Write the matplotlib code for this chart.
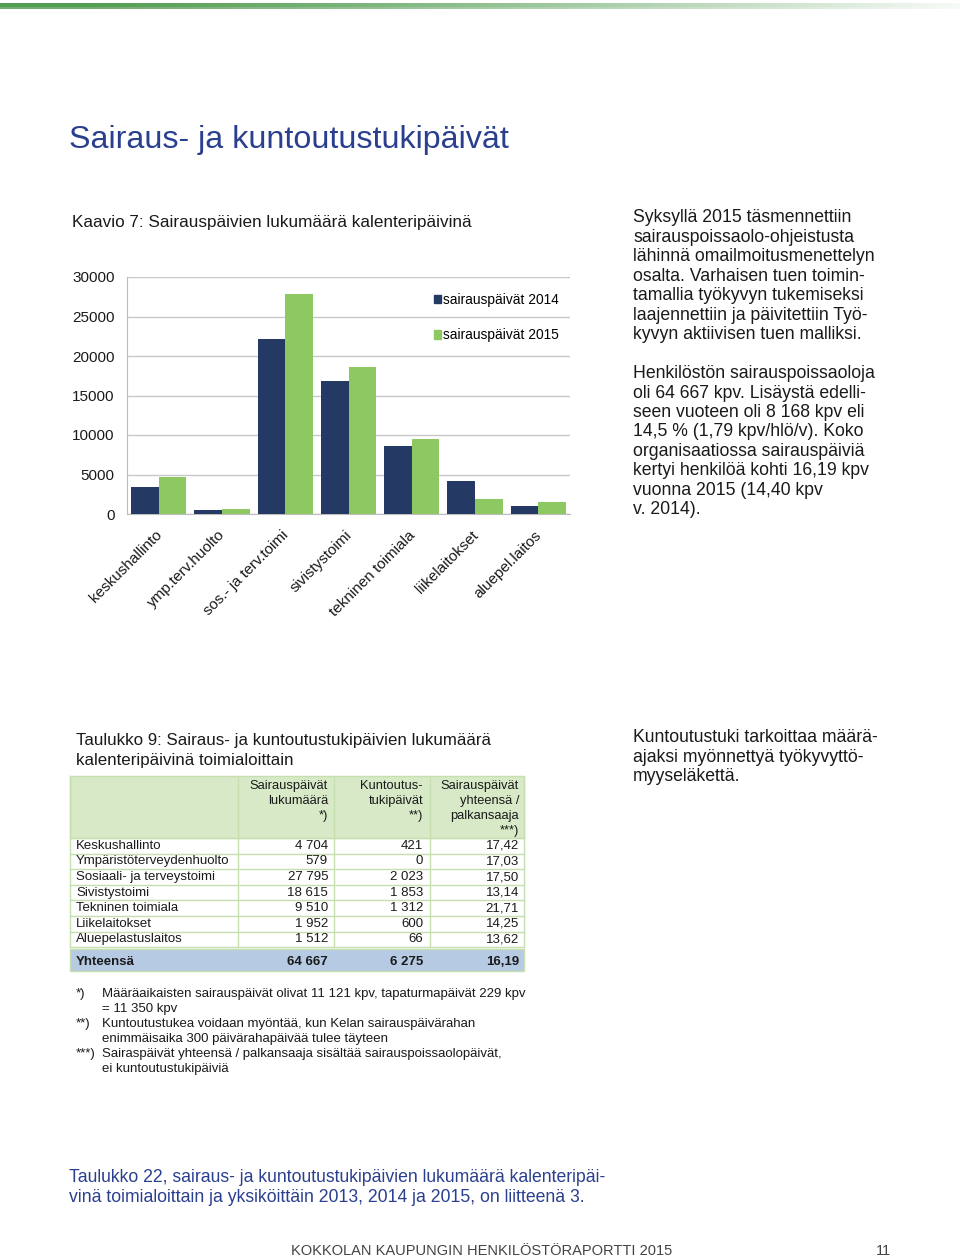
import numpy as np
import matplotlib
matplotlib.use("Agg")
import matplotlib.pyplot as plt
from matplotlib.patches import Rectangle, Patch

plt.rcParams['font.family'] = ['Liberation Sans', 'DejaVu Sans']

W, H = 960, 1258

# --- chart data ---
categories = ['keskushallinto', 'ymp.terv.huolto', 'sos.- ja terv.toimi', 'sivistystoimi',
              'tekninen toimiala', 'liikelaitokset', 'aluepel.laitos']
days_2014 = [3470, 465, 22170, 16790, 8550, 4150, 970]
days_2015 = [4704, 579, 27795, 18615, 9510, 1952, 1512]
y_ticks = [0, 5000, 10000, 15000, 20000, 25000, 30000]

# --- table data ---
table_rows = ['Keskushallinto', 'Ympäristöterveydenhuolto', 'Sosiaali- ja terveystoimi',
              'Sivistystoimi', 'Tekninen toimiala', 'Liikelaitokset', 'Aluepelastuslaitos']
col_sairaus = ['4 704', '579', '27 795', '18 615', '9 510', '1 952', '1 512']
col_kuntoutus = ['421', '0', '2 023', '1 853', '1 312', '600', '66']
col_per_hlo = ['17,42', '17,03', '17,50', '13,14', '21,71', '14,25', '13,62']
total_row = ['Yhteensä', '64 667', '6 275', '16,19']

NAVY = '#243a64'
GREEN = '#8dc863'
BLUE_TXT = '#2a3f8e'
TXT = '#1a1a1a'

fig = plt.figure(figsize=(W / 100, H / 100), dpi=100)

# page axes in pixel coordinates (y down)
page = fig.add_axes([0, 0, 1, 1])
page.set_xlim(0, W)
page.set_ylim(H, 0)
page.axis('off')

# top gradient lines
grad = np.linspace(0, 1, 400)
for y0, y1, c in [(4, 7.5, (0.33, 0.62, 0.33)), (8, 9.5, (0.45, 0.68, 0.45))]:
    img = np.ones((1, 400, 4))
    img[0, :, 0], img[0, :, 1], img[0, :, 2] = c
    img[0, :, 3] = np.clip(1.05 - grad ** 1.3, 0, 1)
    page.imshow(img, extent=(0, W, y1, y0), aspect='auto', interpolation='bilinear')

page.text(69, 140, 'Sairaus- ja kuntoutustukipäivät', fontsize=23.2, color=BLUE_TXT, va='center')
page.text(72, 223, 'Kaavio 7: Sairauspäivien lukumäärä kalenteripäivinä', fontsize=12.3, color=TXT, va='center')

# right column text
right_lines = ['Syksyllä 2015 täsmennettiin', 'sairauspoissaolo-ohjeistusta',
               'lähinnä omailmoitusmenettelyn', 'osalta. Varhaisen tuen toimin-',
               'tamallia työkyvyn tukemiseksi', 'laajennettiin ja päivitettiin Työ-',
               'kyvyn aktiivisen tuen malliksi.', '',
               'Henkilöstön sairauspoissaoloja', 'oli 64 667 kpv. Lisäystä edelli-',
               'seen vuoteen oli 8 168 kpv eli', '14,5 % (1,79 kpv/hlö/v). Koko',
               'organisaatiossa sairauspäiviä', 'kertyi henkilöä kohti 16,19 kpv',
               'vuonna 2015 (14,40 kpv', 'v. 2014).']
for i, line in enumerate(right_lines):
    page.text(633, 218 + i * 19.45, line, fontsize=12.7, color=TXT, va='center')

kt_lines = ['Kuntoutustuki tarkoittaa määrä-', 'ajaksi myönnettyä työkyvyttö-', 'myyseläkettä.']
for i, line in enumerate(kt_lines):
    page.text(633, 738 + i * 19.45, line, fontsize=12.7, color=TXT, va='center')

# --- bar chart ---
ax = fig.add_axes([127 / W, 1 - 514 / H, 443 / W, 237 / H])
x = np.arange(len(categories))
bw = 0.437
ax.bar(x - bw / 2, days_2014, bw, color=NAVY, label='sairauspäivät 2014', zorder=3)
ax.bar(x + bw / 2, days_2015, bw, color=GREEN, label='sairauspäivät 2015', zorder=3)
ax.set_xlim(-0.5, len(categories) - 0.5)
ax.set_ylim(0, 30000)
ax.set_yticks(y_ticks)
ax.set_yticklabels([str(t) for t in y_ticks], fontsize=11, color=TXT)
ax.yaxis.grid(True, color='#c8c8c8', lw=1, zorder=0)
ax.tick_params(axis='both', length=0)
ax.tick_params(axis='y', pad=9)
ax.set_xticks(x - 0.06)
ax.set_xticklabels(categories, rotation=45, ha='right', rotation_mode='anchor',
                   fontsize=11, color=TXT)
ax.tick_params(axis='x', pad=10)
for s in ['top', 'right']:
    ax.spines[s].set_visible(False)
ax.spines['left'].set_color('#bdbdbd')
ax.spines['bottom'].set_color('#bdbdbd')
ax.legend(handles=[Patch(color=NAVY, label='sairauspäivät 2014'),
                   Patch(color=GREEN, label='sairauspäivät 2015')],
          loc='upper left', bbox_to_anchor=(0.68, 0.955), frameon=False,
          fontsize=9.9, handlelength=0.55, handleheight=0.55, handletextpad=0.15,
          labelspacing=1.55, borderaxespad=0)

# --- table ---
page.text(76, 741, 'Taulukko 9: Sairaus- ja kuntoutustukipäivien lukumäärä', fontsize=12.2, color=TXT, va='center')
page.text(76, 761, 'kalenteripäivinä toimialoittain', fontsize=12.2, color=TXT, va='center')

tx0, tx1 = 70, 524
col_edges = [70, 238, 334, 430, 524]
hdr_top, hdr_bot = 776, 838
row_h = 15.6
line_c = '#c6dfb1'
page.add_patch(Rectangle((tx0, hdr_top), tx1 - tx0, hdr_bot - hdr_top,
                         facecolor='#d7e9c6', edgecolor=line_c, lw=1))
headers = [['Sairauspäivät', 'lukumäärä', '*)'],
           ['Kuntoutus-', 'tukipäivät', '**)'],
           ['Sairauspäivät', 'yhteensä /', 'palkansaaja', '***)']]
col_right = [328, 423, 519]
for xr, hdr in zip(col_right, headers):
    for j, h in enumerate(hdr):
        page.text(xr, 786 + j * 15, h, fontsize=9.3, color=TXT, ha='right', va='center')

n = len(table_rows)
data_bot = hdr_bot + n * row_h
for i in range(n + 1):
    yy = hdr_bot + i * row_h
    page.plot([tx0, tx1], [yy, yy], color=line_c, lw=1)
for xe in col_edges:
    page.plot([xe, xe], [hdr_top, data_bot], color=line_c, lw=1)
for i, name in enumerate(table_rows):
    yc = hdr_bot + (i + 0.5) * row_h
    page.text(76, yc, name, fontsize=9.5, color=TXT, va='center')
    for xr, v in zip(col_right, [col_sairaus[i], col_kuntoutus[i], col_per_hlo[i]]):
        page.text(xr, yc, v, fontsize=9.5, color=TXT, ha='right', va='center')

tot_top, tot_bot = data_bot + 2, 971
page.add_patch(Rectangle((tx0, tot_top), tx1 - tx0, tot_bot - tot_top,
                         facecolor='#b6cbe3', edgecolor=line_c, lw=1))
page.text(76, 962, total_row[0], fontsize=9.5, color=TXT, va='center', fontweight='bold')
for xr, v in zip(col_right, total_row[1:]):
    page.text(xr, 962, v, fontsize=9.5, color=TXT, ha='right', va='center', fontweight='bold')

# footnotes
notes = [('*)', 'Määräaikaisten sairauspäivät olivat 11 121 kpv, tapaturmapäivät 229 kpv'),
         ('', '= 11 350 kpv'),
         ('**)', 'Kuntoutustukea voidaan myöntää, kun Kelan sairauspäivärahan'),
         ('', 'enimmäisaika 300 päivärahapäivää tulee täyteen'),
         ('***)', 'Sairaspäivät yhteensä / palkansaaja sisältää sairauspoissaolopäivät,'),
         ('', 'ei kuntoutustukipäiviä')]
for i, (mark, txt) in enumerate(notes):
    yy = 994 + i * 15
    if mark:
        page.text(76, yy, mark, fontsize=9.5, color=TXT, va='center')
    page.text(102, yy, txt, fontsize=9.5, color=TXT, va='center')

page.text(69, 1178, 'Taulukko 22, sairaus- ja kuntoutustukipäivien lukumäärä kalenteripäi-',
          fontsize=12.7, color=BLUE_TXT, va='center')
page.text(69, 1197, 'vinä toimialoittain ja yksiköittäin 2013, 2014 ja 2015, on liitteenä 3.',
          fontsize=12.7, color=BLUE_TXT, va='center')

page.text(291, 1251, 'KOKKOLAN KAUPUNGIN HENKILÖSTÖRAPORTTI 2015', fontsize=10.5, color='#444444', va='center')
page.text(891, 1251, '11', fontsize=10.5, color='#444444', va='center', ha='right')

fig.savefig('out.png', dpi=100)
